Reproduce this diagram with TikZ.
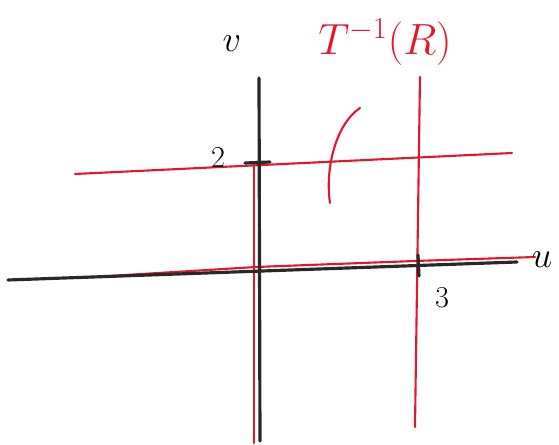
\documentclass[tikz,border=0pt]{standalone}
\definecolor{penred}{RGB}{228,22,44}
\definecolor{ink}{RGB}{40,40,40}
\tikzset{
  redline/.style={penred, line width=1.2pt, line cap=round},
  axis/.style={ink, line width=1.8pt, line cap=round},
  lbl/.style={inner sep=0pt, font=\fontsize{20}{22}\selectfont}
}
\begin{document}
\begin{tikzpicture}[x=0.02cm,y=-0.02cm]
\useasboundingbox (0,0) rectangle (559,445);
% red preimage lines
\draw[redline] (75,174) -- (512,153);
\draw[redline] (420,77) -- (415,427);
\draw[redline] (254,162) -- (254,443);
\draw[redline] (77,278) -- (256,267) -- (415,261) -- (535,257);
% axes
\draw[axis] (8,280) -- (517,262);
\draw[axis] (259,78) -- (260,441);
\draw[axis] (245,163) -- (270,162);
\draw[axis] (418,255) -- (419,276);
% turning arrow
\draw[redline] (360,108) .. controls (335,125) and (325,170) .. (330,203);
% labels
\node[lbl] (v) at (232,44) {$v$};
\node[lbl] (u) at (542,260) {$u$};
\node[lbl, font=\fontsize{18}{20}\selectfont] (two) at (218,158) {$2$};
\node[lbl, font=\fontsize{18}{20}\selectfont] (three) at (442,298) {$3$};
\node[lbl, penred, font=\fontsize{26}{28}\selectfont] (pre) at (385,42) {$T^{-1}(R)$};
\end{tikzpicture}
\end{document}
